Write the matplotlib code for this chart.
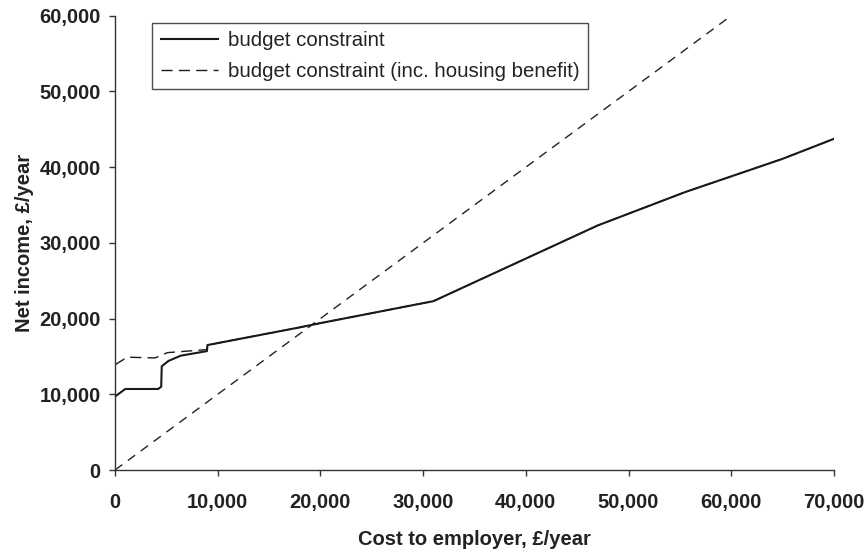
import matplotlib.pyplot as plt
from matplotlib.ticker import FuncFormatter

plt.rcParams['font.family'] = ['Liberation Sans', 'DejaVu Sans']

# budget constraint (cost to employer, net income)
cost_bc = [0, 1000, 4200, 4500, 4550, 5200, 6400, 8950, 9000, 17850, 20000,
           31000, 47000, 55500, 65000, 70300]
net_bc = [9700, 10700, 10700, 11000, 13700, 14400, 15100, 15700, 16500,
          18800, 19400, 22300, 32300, 36700, 41100, 43900]

# budget constraint inc. housing benefit
cost_hb = [0, 1200, 3900, 5100, 8950, 9000, 17850, 20000, 31000, 47000,
           55500, 65000, 70300]
net_hb = [13900, 14900, 14800, 15500, 15900, 16500, 18800, 19400, 22300,
          32300, 36700, 41100, 43900]

# 45 degree reference line
diag = [0, 70000]

fig = plt.figure(figsize=(8.68, 5.49), dpi=100)
ax = fig.add_axes([115 / 868, 79 / 549, 719 / 868, 454.3 / 549])

ax.plot(diag, diag, color='#222222', lw=1.0, dashes=(6.5, 5))
ax.plot(cost_bc, net_bc, color='#1a1a1a', lw=1.5, label='budget constraint')
ax.plot(cost_hb, net_hb, color='#1a1a1a', lw=1.0, dashes=(8, 4.5),
        label='budget constraint (inc. housing benefit)')

ax.set_xlim(0, 70000)
ax.set_ylim(0, 60000)
ax.set_xticks(range(0, 70001, 10000))
ax.set_yticks(range(0, 60001, 10000))
fmt = FuncFormatter(lambda v, p: f'{int(v):,}')
ax.xaxis.set_major_formatter(fmt)
ax.yaxis.set_major_formatter(fmt)
for s in ['top', 'right']:
    ax.spines[s].set_visible(False)
for s in ['left', 'bottom']:
    ax.spines[s].set_color('#333333')
    ax.spines[s].set_linewidth(1.0)
ax.tick_params(direction='out', length=4.3, width=1.0, color='#333333',
               labelsize=14.5)
ax.tick_params(axis='x', pad=12)
ax.tick_params(axis='y', pad=6)
for lab in ax.get_xticklabels() + ax.get_yticklabels():
    lab.set_fontweight('bold')
    lab.set_color('#222222')

ax.set_xlabel('Cost to employer, £/year', fontsize=14.5, fontweight='bold',
              color='#222222', labelpad=13)
ax.set_ylabel('Net income, £/year', fontsize=14.5, fontweight='bold',
              color='#222222', labelpad=4)

leg = ax.legend(loc='upper left', bbox_to_anchor=(0.052, 0.985), fontsize=14.7,
                frameon=True, fancybox=False, handlelength=2.8,
                handletextpad=0.5, borderpad=0.4, labelspacing=0.6,
                borderaxespad=0)
leg.get_frame().set_edgecolor('#222222')
leg.get_frame().set_linewidth(1.0)
for t in leg.get_texts():
    t.set_color('#222222')

fig.savefig('out.png', dpi=100)
